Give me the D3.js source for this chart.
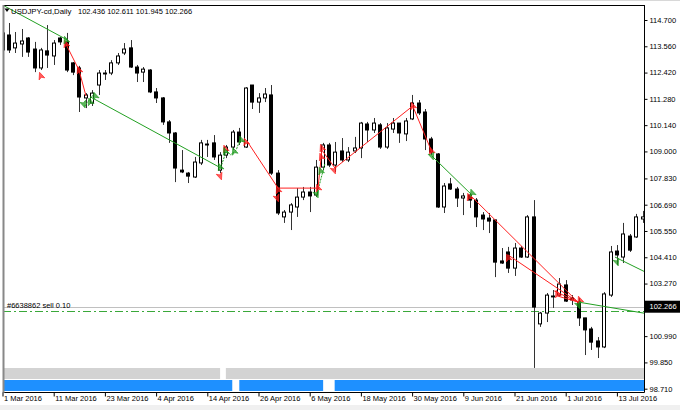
<!DOCTYPE html>
<html><head><meta charset="utf-8">
<script src="https://cdn.jsdelivr.net/npm/d3@7"></script>
<style>
body{margin:0;background:#fff;}
svg{display:block;}
text{font-family:"Liberation Sans",Arial,sans-serif;}
</style>
</head><body>
<svg id="c" width="680" height="410"></svg>
<script>
// ---------- data ----------
const dates = ["2016-03-01","2016-03-02","2016-03-03","2016-03-04","2016-03-07","2016-03-08","2016-03-09","2016-03-10","2016-03-11","2016-03-14",
"2016-03-15","2016-03-16","2016-03-17","2016-03-18","2016-03-21","2016-03-22","2016-03-23","2016-03-24","2016-03-25","2016-03-28",
"2016-03-29","2016-03-30","2016-03-31","2016-04-01","2016-04-04","2016-04-05","2016-04-06","2016-04-07","2016-04-08","2016-04-11",
"2016-04-12","2016-04-13","2016-04-14","2016-04-15","2016-04-18","2016-04-19","2016-04-20","2016-04-21","2016-04-22","2016-04-25",
"2016-04-26","2016-04-27","2016-04-28","2016-04-29","2016-05-02","2016-05-03","2016-05-04","2016-05-05","2016-05-06","2016-05-09",
"2016-05-10","2016-05-11","2016-05-12","2016-05-13","2016-05-16","2016-05-17","2016-05-18","2016-05-19","2016-05-20","2016-05-23",
"2016-05-24","2016-05-25","2016-05-26","2016-05-27","2016-05-30","2016-05-31","2016-06-01","2016-06-02","2016-06-03","2016-06-06",
"2016-06-07","2016-06-08","2016-06-09","2016-06-10","2016-06-13","2016-06-14","2016-06-15","2016-06-16","2016-06-17","2016-06-20",
"2016-06-21","2016-06-22","2016-06-23","2016-06-24","2016-06-27","2016-06-28","2016-06-29","2016-06-30","2016-07-01","2016-07-04",
"2016-07-05","2016-07-06","2016-07-07","2016-07-08","2016-07-11","2016-07-12","2016-07-13","2016-07-14","2016-07-15","2016-07-18",
"2016-07-19"];

const open = [113.40,114.05,113.49,113.66,113.92,113.44,112.62,113.36,113.14,113.92,
113.75,112.84,112.62,111.32,111.10,111.88,112.36,112.40,112.84,113.27,
113.49,112.66,112.44,112.53,111.58,111.32,110.28,109.80,108.19,108.06,
107.89,108.50,109.28,109.37,108.19,108.84,109.19,109.84,109.19,111.88,
111.14,111.32,111.45,108.06,106.16,106.37,106.59,107.02,107.24,107.11,
108.32,109.28,108.41,109.02,108.63,109.02,109.15,110.19,109.93,110.15,
109.19,109.97,110.23,109.76,110.41,111.10,110.71,109.54,108.89,106.59,
107.59,107.37,106.98,107.11,106.89,106.24,106.11,106.03,104.25,104.64,
103.94,104.81,104.42,106.16,101.52,101.99,102.69,102.77,103.21,102.64,
102.47,101.78,101.30,100.78,100.52,102.77,104.68,104.42,105.33,105.29,
106.07];
const high = [114.27,114.57,114.18,114.31,113.96,113.75,113.49,114.48,113.83,113.96,
114.14,112.88,112.71,111.53,111.66,112.53,112.53,112.96,113.27,113.70,
113.83,112.75,112.66,112.57,111.75,111.36,110.36,109.84,109.06,108.11,
108.76,109.50,109.50,109.71,108.97,109.28,109.93,110.02,111.79,111.88,
111.53,111.75,111.88,108.19,106.46,106.76,107.41,107.46,107.46,108.63,
109.37,109.37,109.41,109.58,109.19,109.63,110.28,110.28,110.45,110.23,
110.23,110.45,110.23,110.45,111.45,111.23,110.84,109.63,108.93,107.63,
107.85,107.46,107.20,107.20,106.98,106.37,106.33,106.03,104.81,104.86,
105.03,104.90,106.24,106.89,102.04,102.86,102.99,103.51,103.42,102.77,
102.64,101.78,101.39,100.95,102.90,104.90,104.94,105.90,105.42,106.29,
106.42];
const low = [112.18,113.27,113.27,113.10,113.10,112.44,112.53,112.62,112.75,113.62,
112.44,112.31,110.71,110.88,110.97,111.45,112.10,112.31,112.75,113.18,
112.62,112.01,112.01,111.53,111.10,110.15,109.37,107.67,108.06,107.63,
107.85,108.41,108.76,108.63,108.06,108.71,109.06,109.28,109.15,110.84,
110.67,111.14,107.98,106.24,105.90,105.59,106.16,106.89,106.37,107.02,
108.19,108.32,108.11,108.54,108.54,108.93,108.71,109.41,109.80,109.11,
109.11,109.80,109.37,109.45,110.36,110.58,109.06,108.84,106.55,106.33,
107.33,106.59,106.24,106.55,105.72,105.59,105.46,103.55,104.12,103.73,
103.60,104.38,104.38,99.61,101.39,101.60,102.21,102.69,102.47,102.34,
101.43,100.17,100.39,100.04,100.47,102.69,104.07,104.16,104.64,105.25,
105.90];
const close = [114.14,113.40,113.70,113.79,113.31,112.62,113.40,113.18,113.70,113.75,
112.53,112.44,111.36,111.45,111.53,112.40,112.40,112.84,113.14,113.44,
112.66,112.40,112.57,111.58,111.32,110.28,109.80,108.28,108.11,107.93,
108.54,109.37,109.32,108.76,108.84,109.19,109.84,109.41,111.75,111.14,
111.32,111.49,108.06,106.33,106.37,106.68,107.02,107.24,107.07,108.32,
109.28,108.41,108.97,108.63,108.97,109.15,110.23,109.93,110.23,109.19,
110.02,110.23,109.80,110.32,111.10,110.67,109.54,108.97,106.59,107.50,
107.37,106.98,107.07,106.89,106.16,106.07,105.98,104.20,104.16,103.94,
104.81,104.42,106.16,102.25,101.99,102.77,102.73,103.25,102.51,102.56,
101.78,101.26,100.73,100.52,102.82,104.64,104.51,105.42,104.72,106.16,
106.16];

const priceTicks = [114.700,113.560,112.420,111.280,110.140,109.000,107.830,106.690,105.550,104.410,103.270,102.130,100.990,99.850,98.710];
const hiddenPriceTick = 102.130; // covered by the current-price label
const dateTicks = ["2016-03-01","2016-03-11","2016-03-23","2016-04-04","2016-04-14","2016-04-26","2016-05-06","2016-05-18","2016-05-30","2016-06-09","2016-06-21","2016-07-01","2016-07-13"];
const dateTickLabels = ["1 Mar 2016","11 Mar 2016","23 Mar 2016","4 Apr 2016","14 Apr 2016","26 Apr 2016","6 May 2016","18 May 2016","30 May 2016","9 Jun 2016","21 Jun 2016","1 Jul 2016","13 Jul 2016"];

const symbolTitle = "USDJPY-cd,Daily";
const ohlcTitle = [102.436, 102.611, 101.945, 102.266];
const currentPrice = 102.266;
const orderPrice = 102.08;
const orderLabel = "#6638862 sell 0.10";

// trade path lines: [bar index, price]
const greenLines = [
  [[-1,115.50],[10.1,113.84]],
  [[13.7,111.37],[34.0,108.30]],
  [[67.1,108.80],[73.2,107.15]],
  [[89.9,102.47],[100.8,101.96]],
  [[95.7,104.42],[100.8,103.72]]
];
const greenDashed = [
  [[12.8,110.95],[14.3,111.50]],
  [[34.1,108.30],[35.0,109.05],[35.6,108.85],[36.5,109.05],[37.1,109.50],[38.1,109.35]],
  [[49.1,107.11],[50.4,108.50]]
];
const redLines = [
  [[9.9,113.66],[11.95,112.53],[13.05,111.40]],
  [[38.2,109.45],[43.05,107.41],[49.3,107.41],[49.9,109.06],[51.95,108.28],[64.1,110.97],[67.1,108.97]],
  [[73.05,107.11],[89.9,102.47]],
  [[79.0,104.51],[89.9,102.47]],
  [[86.2,102.95],[89.9,102.47]],
  [[86.6,102.74],[89.9,102.47]]
];
// arrows: [bar index, price, direction]
const redArrows = [
  [6.0,112.27,"up"],[9.9,113.66,"up"],[11.95,112.53,"up"],[34.0,107.93,"down"],[34.8,109.11,"up"],
  [38.0,109.41,"up"],[43.05,107.33,"up"],[42.9,106.98,"down"],[49.3,107.41,"up"],[49.8,108.76,"up"],
  [49.9,109.15,"up"],[51.8,108.19,"down"],[64.1,110.97,"up"],[67.0,109.02,"up"],[72.9,107.02,"up"],
  [79.0,104.38,"up"],[86.7,102.82,"up"],[90.2,102.56,"up"]
];
const greenArrows = [
  [9.9,113.83,"up"],[12.7,111.05,"down"],[13.7,111.15,"up"],[14.5,111.40,"up"],
  [34.0,108.32,"up"],[34.8,109.00,"up"],[36.2,109.00,"up"],[37.3,109.50,"up"],
  [49.1,107.15,"down"],[49.7,108.15,"up"],[67.1,108.80,"down"],[73.4,107.20,"up"],
  [90.0,102.34,"down"],[96.0,104.20,"down"]
];
// bottom indicator strips: [from bar, to bar]
const greyStrip = [[-1,34.0],[34.9,101]];
const blueStrip = [[-1,35.9],[37.0,50.1],[51.9,101]];

// ---------- layout ----------
const svg = d3.select("#c");
const L = 3, R = 644, T = 5, B = 392;
const x = d3.scaleLinear().domain([0, dates.length - 1]).range([2.5, 642.5]);
const y = d3.scaleLinear().domain([98.71, 114.70]).range([388.7, 20]);

svg.append("rect").attr("width",680).attr("height",410).attr("fill","#fff");
svg.append("rect").attr("x",0).attr("y",405).attr("width",680).attr("height",5).attr("fill","#f0f0f0");
svg.append("rect").attr("x",0).attr("y",0).attr("width",680).attr("height",1).attr("fill","#d8d8d8");

svg.append("defs").append("clipPath").attr("id","clip")
  .append("rect").attr("x",L).attr("y",T).attr("width",R-L).attr("height",B-T);
const plot = svg.append("g").attr("clip-path","url(#clip)");

// strips
const stripY = {grey:[368,379], blue:[380,391]};
plot.selectAll(".gs").data(greyStrip).enter().append("rect")
  .attr("x",d=>x(d[0])).attr("width",d=>x(d[1])-x(d[0]))
  .attr("y",stripY.grey[0]).attr("height",stripY.grey[1]-stripY.grey[0]).attr("fill","#d3d3d3");
plot.selectAll(".bs").data(blueStrip).enter().append("rect")
  .attr("x",d=>x(d[0])).attr("width",d=>x(d[1])-x(d[0]))
  .attr("y",stripY.blue[0]).attr("height",stripY.blue[1]-stripY.blue[0]).attr("fill","#1e90ff");

// current price line and order line
plot.append("line").attr("x1",L).attr("x2",R).attr("y1",Math.round(y(currentPrice))+0.5).attr("y2",Math.round(y(currentPrice))+0.5)
  .attr("stroke","#c0c0c0").attr("stroke-width",1);
plot.append("line").attr("x1",L).attr("x2",R).attr("y1",Math.round(y(orderPrice))+0.5).attr("y2",Math.round(y(orderPrice))+0.5)
  .attr("stroke","#3aa83a").attr("stroke-width",1).attr("stroke-dasharray","8,3,2,3");
plot.append("text").attr("x",7).attr("y",Math.round(y(currentPrice))+1).attr("font-size",7.5).attr("fill","#000").text(orderLabel);

// candles
const idx = d3.range(dates.length);
const cg = plot.append("g");
cg.selectAll(".w").data(idx).enter().append("line")
  .attr("x1",i=>Math.round(x(i))+0.5).attr("x2",i=>Math.round(x(i))+0.5)
  .attr("y1",i=>y(high[i])).attr("y2",i=>y(low[i]))
  .attr("stroke","#333").attr("stroke-width",1);
cg.selectAll(".b").data(idx).enter().append("rect")
  .attr("x",i=>Math.round(x(i))-1.5)
  .attr("width",3)
  .attr("y",i=>y(Math.max(open[i],close[i])))
  .attr("height",i=>Math.max(0.6, y(Math.min(open[i],close[i]))-y(Math.max(open[i],close[i]))))
  .attr("fill",i=>close[i]>=open[i]?"#fff":"#000")
  .attr("stroke","#000").attr("stroke-width",1);

// trade lines
const line = d3.line().x(d=>x(d[0])).y(d=>y(d[1]));
plot.selectAll(".gl").data(greenLines).enter().append("path").attr("d",line)
  .attr("fill","none").attr("stroke","#22a022").attr("stroke-width",1);
plot.selectAll(".gd").data(greenDashed).enter().append("path").attr("d",line)
  .attr("fill","none").attr("stroke","#22a022").attr("stroke-width",1).attr("stroke-dasharray","2,1");
plot.selectAll(".rl").data(redLines).enter().append("path").attr("d",line)
  .attr("fill","none").attr("stroke","#ff2020").attr("stroke-width",1);

const arrowPath = "M0,-4 L3,3 L0,1.3 L-3,3 Z";
function drawArrows(data, col) {
  plot.selectAll(null).data(data).enter().append("path").attr("d",arrowPath)
    .attr("transform",d=>`translate(${x(d[0])},${y(d[1])}) rotate(${d[2]==="up"?-20:160})`)
    .attr("fill",col).attr("fill-opacity",0.7).attr("stroke",col).attr("stroke-width",0.6);
}
drawArrows(redArrows,"#ff1a1a");
drawArrows(greenArrows,"#1e9a1e");

// frame
svg.append("line").attr("x1",L).attr("x2",R+0.5).attr("y1",T+0.5).attr("y2",T+0.5).attr("stroke","#000");
svg.append("line").attr("x1",R+0.5).attr("x2",R+0.5).attr("y1",T).attr("y2",B+0.5).attr("stroke","#000");
svg.append("line").attr("x1",L).attr("x2",R+0.5).attr("y1",B+0.5).attr("y2",B+0.5).attr("stroke","#000");
svg.append("line").attr("x1",L+0.5).attr("x2",L+0.5).attr("y1",T).attr("y2",B+1).attr("stroke","#888").attr("stroke-width",2);

// price axis
const ya = svg.append("g").attr("transform",`translate(${R+0.5},0)`)
  .call(d3.axisRight(y).tickValues(priceTicks).tickSize(3)
    .tickFormat(d=>d===hiddenPriceTick?"":d3.format(".3f")(d)));
ya.select(".domain").remove();
ya.selectAll("line").attr("stroke","#000");
ya.selectAll("text").attr("x",5).attr("font-size",7.5).attr("fill","#000").attr("font-family",'"Liberation Sans",Arial,sans-serif');

// current price label
const cpY = y(currentPrice);
svg.append("rect").attr("x",R+1).attr("y",cpY-6).attr("width",680-R-1).attr("height",12).attr("fill","#000");
svg.append("text").attr("x",R+5.5).attr("y",cpY).attr("dy","0.34em").attr("font-size",7.5).attr("fill","#fff").text(currentPrice.toFixed(3));

// date axis
const tickIdx = dateTicks.map(d=>dates.indexOf(d));
const xa = svg.append("g").attr("transform",`translate(0,${B+0.5})`)
  .call(d3.axisBottom(x).tickValues(tickIdx).tickSize(4).tickFormat((d,i)=>dateTickLabels[i]));
xa.select(".domain").remove();
xa.selectAll("line").attr("stroke","#000");
xa.selectAll("text").attr("text-anchor","start").attr("x",1).attr("y",3).attr("dy","0.71em")
  .attr("font-size",7.5).attr("fill","#000").attr("font-family",'"Liberation Sans",Arial,sans-serif');

// header
svg.append("path").attr("d","M4.5,8.5 L9.5,8.5 L7,12 Z").attr("fill","#000");
svg.append("text").attr("x",11).attr("y",14).attr("font-size",7.8).attr("fill","#000").text(symbolTitle);
svg.append("text").attr("x",78).attr("y",14).attr("font-size",7.5).attr("fill","#000")
  .text(ohlcTitle.map(v=>v.toFixed(3)).join(" "));
</script>
</body></html>
